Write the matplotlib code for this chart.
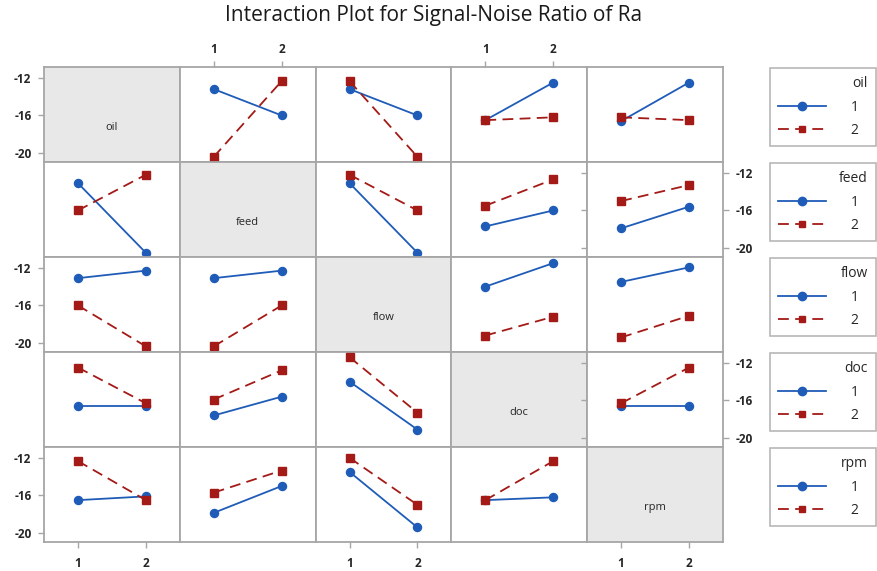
import matplotlib
matplotlib.use("Agg")
import matplotlib.pyplot as plt
from matplotlib.lines import Line2D

plt.rcParams['font.family'] = ['Open Sans', 'DejaVu Sans']

factors = ['oil', 'feed', 'flow', 'doc', 'rpm']
levels = [1, 2]
tick_values = [-12, -16, -20]

# mean S/N ratio for each trace factor (row) at its level 1 / level 2,
# listed per x-axis factor (column); None on the diagonal
oil_lvl1 = [None, [-13.2, -16.0], [-13.2, -16.0], [-16.5, -12.5], [-16.6, -12.5]]
oil_lvl2 = [None, [-20.4, -12.35], [-12.35, -20.4], [-16.5, -16.2], [-16.2, -16.5]]
feed_lvl1 = [[-13.1, -20.5], None, [-13.1, -20.5], [-17.7, -16.0], [-17.9, -15.6]]
feed_lvl2 = [[-16.0, -12.2], None, [-12.2, -16.0], [-15.5, -12.7], [-15.0, -13.3]]
flow_lvl1 = [[-13.1, -12.3], [-13.1, -12.3], None, [-14.0, -11.5], [-13.5, -11.95]]
flow_lvl2 = [[-16.0, -20.35], [-20.35, -16.0], None, [-19.2, -17.2], [-19.4, -17.1]]
doc_lvl1 = [[-16.6, -16.6], [-17.6, -15.6], [-14.0, -19.1], None, [-16.6, -16.6]]
doc_lvl2 = [[-12.5, -16.3], [-15.9, -12.8], [-11.4, -17.3], None, [-16.3, -12.5]]
rpm_lvl1 = [[-16.5, -16.1], [-17.85, -15.0], [-13.5, -19.4], [-16.5, -16.2], None]
rpm_lvl2 = [[-12.35, -16.5], [-15.7, -13.35], [-12.0, -17.0], [-16.5, -12.35], None]

level1_rows = [oil_lvl1, feed_lvl1, flow_lvl1, doc_lvl1, rpm_lvl1]
level2_rows = [oil_lvl2, feed_lvl2, flow_lvl2, doc_lvl2, rpm_lvl2]

BLUE = '#1f5cb8'
RED = '#a31a17'
GRID = '#a6a6a6'
DIAG = '#e8e8e8'
TXT = '#262626'
DASH = (0, (6, 3.5))

W, H = 878, 571
fig = plt.figure(figsize=(W / 100, H / 100), dpi=100)
left, right, top, bottom = 44 / W, 723 / W, 1 - 67 / H, 1 - 542 / H
gs = fig.add_gridspec(5, 5, left=left, right=right, top=top, bottom=bottom,
                      wspace=0, hspace=0)

for i, rowf in enumerate(factors):
    for j, colf in enumerate(factors):
        ax = fig.add_subplot(gs[i, j])
        ax.set_xlim(0.5, 2.5)
        ax.set_ylim(-20.95, -10.85)
        for s in ax.spines.values():
            s.set_color(GRID)
            s.set_linewidth(1.3)
        ax.tick_params(which='both', length=0, labelleft=False, labelbottom=False,
                       labelright=False, labeltop=False, colors=GRID)
        ax.set_xticks(levels)
        ax.set_yticks(tick_values)
        ax.set_yticklabels([str(v) for v in tick_values])
        if i == j:
            ax.set_facecolor(DIAG)
            ax.text(0.5, 0.36, rowf, transform=ax.transAxes, ha='center',
                    va='center', fontsize=8, color=TXT)
        else:
            y1 = level1_rows[i][j]
            y2 = level2_rows[i][j]
            ax.plot(levels, y1, color=BLUE, lw=1.3, marker='o', ms=5.8, zorder=3)
            ax.plot(levels, y2, color=RED, lw=1.3, ls=DASH, marker='s',
                    ms=5.8, zorder=3)
        if j == 0 and i % 2 == 0:
            ax.tick_params(axis='y', left=True, labelleft=True, length=4, width=1,
                           pad=5)
        if j == 4 and i % 2 == 1:
            ax.tick_params(axis='y', right=True, labelright=True, length=4, width=1,
                           pad=5)
        if i == 0 and j % 2 == 1:
            ax.tick_params(axis='x', top=True, labeltop=True, length=4, width=1,
                           pad=4)
        if i == 4 and j % 2 == 0:
            ax.tick_params(axis='x', bottom=True, labelbottom=True, length=4,
                           width=1, pad=7)
        for lab in ax.get_xticklabels() + ax.get_yticklabels():
            lab.set_color(TXT)
            lab.set_fontsize(8.5)
            lab.set_fontweight('bold')

# legends
row_tops = [67, 162, 257, 352, 447]
for i, f in enumerate(factors):
    handles = [Line2D([], [], color=BLUE, lw=1.3, marker='o', ms=6),
               Line2D([], [], color=RED, lw=1.3, ls=DASH, marker='s', ms=5)]
    leg = fig.legend(handles, [str(l) for l in levels], title=f,
                     loc='upper left',
                     bbox_to_anchor=(770 / W, 1 - (row_tops[i] + 1) / H, 106 / W, 0),
                     mode='expand', borderaxespad=0, fontsize=10,
                     title_fontsize=10, handlelength=3.4, handletextpad=1.8,
                     labelspacing=0.6, borderpad=0.6, fancybox=False,
                     alignment='right', markerfirst=True)
    fr = leg.get_frame()
    fr.set_edgecolor(GRID)
    fr.set_linewidth(1.2)
    for t in leg.get_texts():
        t.set_color(TXT)
    leg.get_title().set_color(TXT)

fig.text(0.494, 1 - 16 / H, 'Interaction Plot for Signal-Noise Ratio of Ra',
         ha='center', va='center', fontsize=15, color='#1a1a1a')

fig.savefig('out.png', dpi=100)
